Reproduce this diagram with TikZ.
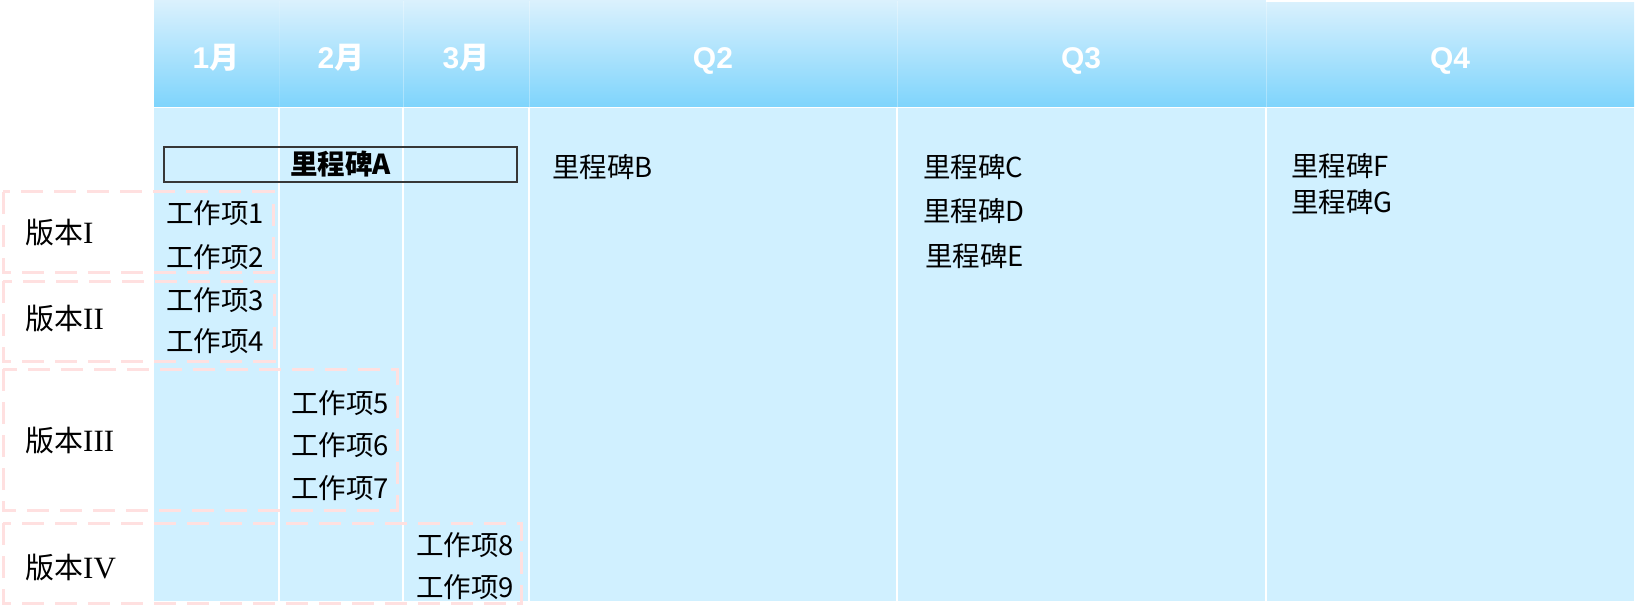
\documentclass[tikz,border=0pt]{standalone}
\usepackage{fontspec}
\setmainfont{Noto Sans CJK SC}
\newfontfamily\latsans{Liberation Sans}
\newfontfamily\latserif{Liberation Serif}
\usetikzlibrary{shadings}
\definecolor{bodyblue}{RGB}{208,240,255}
\definecolor{hdtop}{RGB}{218,241,253}
\definecolor{hdbot}{RGB}{126,212,252}
\definecolor{dashpink}{RGB}{255,224,224}
\definecolor{boxgray}{RGB}{55,55,55}
\newcommand\wsz{\fontsize{27.5bp}{32bp}\selectfont}
\newcommand\vsz{\fontsize{29bp}{34bp}\selectfont}
\newcommand\hdsz{\fontsize{30bp}{34bp}\selectfont}
\newcommand\rnum[1]{{\latserif\fontsize{31bp}{34bp}\selectfont #1}}
\newcommand\hnum[1]{{\latsans\bfseries #1}}
\begin{document}
\begin{tikzpicture}[x=1bp,y=-1bp,
  item/.style={anchor=base west, inner sep=0pt, font=\wsz},
  verlabel/.style={anchor=base west, inner sep=0pt, font=\vsz},
  hdtext/.style={anchor=base, inner sep=0pt, text=white, font=\hdsz\bfseries},
  verbox/.style={draw=dashpink, line width=3bp, dash pattern=on 22bp off 11bp},
  sep/.style={draw=white, line width=1.5bp},
  hdsep/.style={draw=white, line width=1bp, opacity=0.3}]
\useasboundingbox (0,0) rectangle (1636,607);
% header
\shade[top color=hdtop, bottom color=hdbot] (154,1) rectangle (1634,107);
\fill[white] (1266,0) rectangle (1636,2.5);
\draw[hdsep, opacity=0.12] (279,1) -- (279,107);
\foreach \x in {403,529,897,1266} \draw[hdsep] (\x,1) -- (\x,107);
% body
\fill[bodyblue] (154,108) rectangle (1634,601);
\draw[sep] (154,107.5) -- (1634,107.5);
\foreach \x in {279,403,529,897,1266} \draw[sep] (\x,107) -- (\x,601);
% header texts
\node[hdtext] (h1) at (216,69) {\hnum{1}月};
\node[hdtext] (h2) at (341,69) {\hnum{2}月};
\node[hdtext] (h3) at (466,69) {\hnum{3}月};
\node[hdtext] (h4) at (713,69) {\hnum{Q2}};
\node[hdtext] (h5) at (1081,69) {\hnum{Q3}};
\node[hdtext] (h6) at (1450,69) {\hnum{Q4}};
% version boxes
\draw[verbox] (3,192) rectangle (273,272);
\draw[verbox] (3,281) rectangle (274,361);
\draw[verbox] (3,369) rectangle (397,510);
\draw[verbox] (3,523) rectangle (521,603);
% version labels
\node[verlabel] (v1) at (25,244) {版本\rnum{I}};
\node[verlabel] (v2) at (25,329) {版本\rnum{II}};
\node[verlabel] (v3) at (25,451) {版本\rnum{III}};
\node[verlabel] (v4) at (25,578) {版本\rnum{IV}};
% milestone A
\node[draw=boxgray, line width=1.3bp, minimum width=353bp, minimum height=35bp, inner sep=0pt, font=\wsz\bfseries] (mA) at (340.5,164.5) {里程碑A};
% work items
\node[item] (w1) at (166,224) {工作项1};
\node[item] (w2) at (166,267) {工作项2};
\node[item] (w3) at (166,310) {工作项3};
\node[item] (w4) at (166,351) {工作项4};
\node[item] (w5) at (291,413) {工作项5};
\node[item] (w6) at (291,455) {工作项6};
\node[item] (w7) at (291,498) {工作项7};
\node[item] (w8) at (416,555) {工作项8};
\node[item] (w9) at (416,597) {工作项9};
% milestones
\node[item] (mB) at (552,178) {里程碑B};
\node[item] (mC) at (923,178) {里程碑C};
\node[item] (mD) at (923,222) {里程碑D};
\node[item] (mE) at (925,266) {里程碑E};
\node[item] (mF) at (1291,177) {里程碑F};
\node[item] (mG) at (1291,213) {里程碑G};
\end{tikzpicture}
\end{document}
